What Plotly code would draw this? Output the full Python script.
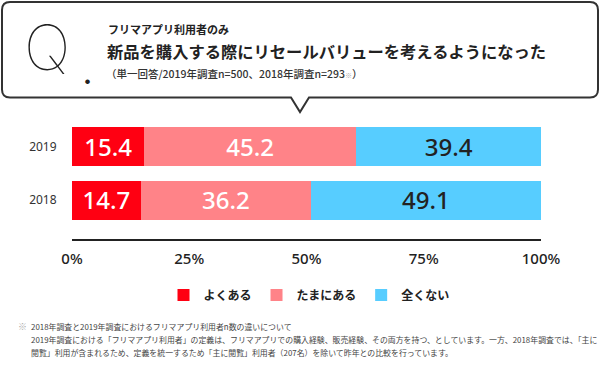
import plotly.graph_objects as go

# ---- data ----
years = ["2018", "2019"]
often = [14.7, 15.4]        # よくある
sometimes = [36.2, 45.2]    # たまにある
never = [49.1, 39.4]        # 全くない
series_names = ["よくある", "たまにある", "全くない"]
x_ticks = [0, 25, 50, 75, 100]
x_tick_labels = ["0%", "25%", "50%", "75%", "100%"]

colors = ["#FF0012", "#FF8388", "#57CDFF"]
text_colors = ["#FFFFFF", "#FFFFFF", "#222222"]

W, H = 600, 366
ML, MR, MT, MB = 72, 59, 120, 127
PW = W - ML - MR
PH = H - MT - MB


def px(x):
    return (x - ML) / PW


def py(y):
    return (H - MB - y) / PH


fig = go.Figure()
for name, vals, c, tc in zip(series_names, [often, sometimes, never], colors, text_colors):
    fig.add_trace(go.Bar(
        y=years, x=vals, name=name, orientation="h",
        marker=dict(color=c, line=dict(width=0)),
        text=[f"{v:.1f}" for v in vals],
        textposition="inside", insidetextanchor="middle",
        textangle=0,
        insidetextfont=dict(family="Noto Sans", size=27, color=tc, weight=500),
        hoverinfo="skip",
    ))

# ---- callout box with pointer ----
L, T, R, B, r = 2, 2, 598, 97.5, 8
tx0, tx1, tyA = 291, 309, 112
pts = (
    f"M {px(L + r)},{py(T)} L {px(R - r)},{py(T)} "
    f"Q {px(R)},{py(T)} {px(R)},{py(T + r)} "
    f"L {px(R)},{py(B - r)} Q {px(R)},{py(B)} {px(R - r)},{py(B)} "
    f"L {px(tx1)},{py(B)} L {px(300)},{py(tyA)} L {px(tx0)},{py(B)} "
    f"L {px(L + r)},{py(B)} Q {px(L)},{py(B)} {px(L)},{py(B - r)} "
    f"L {px(L)},{py(T + r)} Q {px(L)},{py(T)} {px(L + r)},{py(T)} Z"
)
shapes = [dict(type="path", xref="paper", yref="paper", path=pts,
               line=dict(color="#333333", width=2), fillcolor="rgba(0,0,0,0)")]

JP = "Noto Sans CJK JP"
ann = []


def note(x, y, text, xanchor="left", yanchor="middle", **font):
    ann.append(dict(x=px(x), y=py(y), xref="paper", yref="paper", text=text, showarrow=False,
                    xanchor=xanchor, yanchor=yanchor, align="left", font=font))


note(47, 48, "Q", xanchor="center", family="Inter", size=62, color="#222222", weight=100)
note(87, 80, "●", xanchor="center", family=JP, size=5, color="#222222")
note(106, 29, "フリマアプリ利用者のみ", family=JP, size=11, color="#222222", weight=700)
note(105, 51, "新品を購入する際にリセールバリューを考えるようになった",
     family=JP, size=16.3, color="#222222", weight=700)
note(104, 73, "（単一回答/2019年調査n=500、2018年調査n=293<span style='font-size:7px;color:#aaaaaa'>※</span>）",
     family=JP, size=10.5, color="#333333", weight=500)

# ---- footnote ----
foot_lines = [
    "2018年調査と2019年調査におけるフリマアプリ利用者n数の違いについて",
    "2019年調査における「フリマアプリ利用者」の定義は、フリマアプリでの購入経験、販売経験、その両方を持つ、としています。一方、2018年調査では、「主に",
    "閲覧」利用が含まれるため、定義を統一するため「主に閲覧」利用者（207名）を除いて昨年との比較を行っています。",
]
note(16, 326, "※", family=JP, size=9, color="#aaaaaa")
for i, line in enumerate(foot_lines):
    note(29, 326 + 13 * i, line, family=JP, size=7.9, color="#444444")

fig.update_layout(
    width=W, height=H,
    margin=dict(l=ML, r=MR, t=MT, b=MB, pad=0, autoexpand=False),
    paper_bgcolor="white", plot_bgcolor="white",
    barmode="stack", bargap=0.27,
    showlegend=True,
    legend=dict(orientation="h", x=px(309), xanchor="center", y=py(295), yanchor="middle",
                font=dict(family=JP, size=12, color="#222222", weight=700),
                itemwidth=30, traceorder="normal", bgcolor="rgba(0,0,0,0)"),
    shapes=shapes, annotations=ann,
    uniformtext=dict(mode=False),
)
fig.update_xaxes(range=[0, 100], tickvals=x_ticks, ticktext=x_tick_labels,
                 showgrid=False, zeroline=False, showline=True, linecolor="#222222", linewidth=2,
                 ticks="outside", ticklen=5, tickcolor="rgba(0,0,0,0)",
                 tickfont=dict(family="Noto Sans", size=15, color="#222222", weight=500),
                 fixedrange=True)
fig.update_yaxes(type="category", categoryorder="array", categoryarray=years,
                 range=[-0.73, 1.5], showgrid=False, zeroline=False, showline=False,
                 ticks="outside", ticklen=12, tickcolor="rgba(0,0,0,0)",
                 tickfont=dict(family="Noto Sans", size=12, color="#333333"),
                 fixedrange=True)

fig.write_html("out.html", config=dict(displayModeBar=False),
               post_script="document.body.style.margin='0';")
